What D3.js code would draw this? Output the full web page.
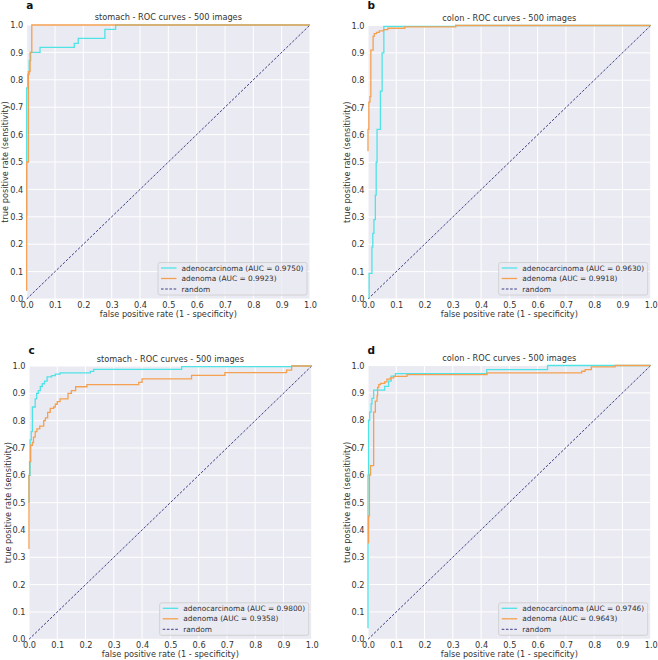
<!DOCTYPE html>
<html>
<head>
<meta charset="utf-8">
<script src="https://cdn.jsdelivr.net/npm/d3@7"></script>
<style>
  html, body { margin: 0; padding: 0; background: #ffffff; }
  svg { display: block; }
  text { font-family: "DejaVu Sans", sans-serif; }
</style>
</head>
<body>
<svg id="chart" width="658" height="660"></svg>
<script>
// ---------- data ----------
const panelLetters = ["a", "b", "c", "d"];
const panelTitles = [
  "stomach - ROC curves - 500 images",
  "colon - ROC curves - 500 images",
  "stomach - ROC curves - 500 images",
  "colon - ROC curves - 500 images"
];
const seriesNames = ["adenocarcinoma", "adenoma", "random"];
const aucAdenocarcinoma = ["0.9750", "0.9630", "0.9800", "0.9746"];
const aucAdenoma = ["0.9923", "0.9918", "0.9358", "0.9643"];
const tickValues = [0, 0.1, 0.2, 0.3, 0.4, 0.5, 0.6, 0.7, 0.8, 0.9, 1.0];
const tickLabels = ["0.0", "0.1", "0.2", "0.3", "0.4", "0.5", "0.6", "0.7", "0.8", "0.9", "1.0"];
const randomFpr = [0, 1];
const randomTpr = [0, 1];

// panel a
const aAdenocarcinomaFpr = [0, 0, 0.004, 0.004, 0.009, 0.009, 0.014, 0.014, 0.047, 0.047, 0.168, 0.168, 0.182, 0.182, 0.276, 0.276, 0.314, 0.314, 1];
const aAdenocarcinomaTpr = [0.30, 0.77, 0.77, 0.82, 0.82, 0.87, 0.87, 0.90, 0.90, 0.918, 0.918, 0.933, 0.933, 0.951, 0.951, 0.984, 0.984, 1, 1];
const aAdenomaFpr = [0, 0, 0.006, 0.006, 0.012, 0.012, 0.018, 0.018, 1];
const aAdenomaTpr = [0.03, 0.50, 0.50, 0.83, 0.83, 0.90, 0.90, 1, 1];

// panel b
const bAdenocarcinomaFpr = [0.004, 0.004, 0.014, 0.014, 0.017, 0.017, 0.021, 0.021, 0.026, 0.026, 0.029, 0.029, 0.032, 0.032, 0.044, 0.044, 0.05, 0.05, 0.056, 0.056, 0.31, 0.31, 1];
const bAdenocarcinomaTpr = [0, 0.094, 0.094, 0.19, 0.19, 0.24, 0.24, 0.29, 0.29, 0.38, 0.38, 0.50, 0.50, 0.62, 0.62, 0.76, 0.76, 0.90, 0.90, 0.997, 0.997, 1, 1];
const bAdenomaFpr = [0, 0, 0.003, 0.003, 0.007, 0.007, 0.01, 0.01, 0.018, 0.018, 0.022, 0.022, 0.03, 0.03, 0.04, 0.04, 0.055, 0.055, 0.07, 0.07, 0.13, 0.13, 0.31, 0.31, 1];
const bAdenomaTpr = [0.54, 0.62, 0.62, 0.72, 0.72, 0.74, 0.74, 0.91, 0.91, 0.96, 0.96, 0.97, 0.97, 0.975, 0.975, 0.98, 0.98, 0.985, 0.985, 0.99, 0.99, 0.995, 0.995, 1, 1];

// panel c
const cAdenocarcinomaFpr = [0, 0, 0.004, 0.004, 0.008, 0.008, 0.012, 0.012, 0.022, 0.022, 0.027, 0.027, 0.033, 0.033, 0.04, 0.04, 0.047, 0.047, 0.055, 0.055, 0.064, 0.064, 0.08, 0.08, 0.093, 0.093, 0.11, 0.11, 0.217, 0.217, 0.229, 0.229, 0.54, 0.54, 0.93, 0.93, 1];
const cAdenocarcinomaTpr = [0.50, 0.60, 0.60, 0.73, 0.73, 0.76, 0.76, 0.85, 0.85, 0.88, 0.88, 0.90, 0.90, 0.91, 0.91, 0.925, 0.925, 0.935, 0.935, 0.945, 0.945, 0.96, 0.96, 0.965, 0.965, 0.97, 0.97, 0.975, 0.975, 0.98, 0.98, 0.988, 0.988, 0.998, 0.998, 1, 1];
const cAdenomaFpr = [0, 0, 0.002, 0.002, 0.006, 0.006, 0.012, 0.012, 0.016, 0.016, 0.022, 0.022, 0.028, 0.028, 0.038, 0.038, 0.052, 0.052, 0.058, 0.058, 0.066, 0.066, 0.075, 0.075, 0.087, 0.087, 0.093, 0.093, 0.10, 0.10, 0.11, 0.11, 0.138, 0.138, 0.15, 0.15, 0.165, 0.165, 0.205, 0.205, 0.388, 0.388, 0.40, 0.40, 0.575, 0.575, 0.693, 0.693, 0.911, 0.911, 0.929, 0.929, 1];
const cAdenomaTpr = [0.33, 0.60, 0.60, 0.65, 0.65, 0.71, 0.71, 0.72, 0.72, 0.74, 0.74, 0.76, 0.76, 0.77, 0.77, 0.78, 0.78, 0.80, 0.80, 0.81, 0.81, 0.83, 0.83, 0.845, 0.845, 0.85, 0.85, 0.86, 0.86, 0.87, 0.87, 0.88, 0.88, 0.90, 0.90, 0.91, 0.91, 0.924, 0.924, 0.932, 0.932, 0.94, 0.94, 0.953, 0.953, 0.966, 0.966, 0.976, 0.976, 0.985, 0.985, 1, 1];

// panel d
const dAdenocarcinomaFpr = [0, 0, 0.002, 0.002, 0.006, 0.006, 0.011, 0.011, 0.014, 0.014, 0.02, 0.02, 0.059, 0.059, 0.073, 0.073, 0.082, 0.082, 0.097, 0.097, 0.42, 0.42, 0.635, 0.635, 1];
const dAdenocarcinomaTpr = [0.04, 0.60, 0.60, 0.80, 0.80, 0.83, 0.83, 0.86, 0.86, 0.88, 0.88, 0.91, 0.91, 0.924, 0.924, 0.943, 0.943, 0.961, 0.961, 0.970, 0.970, 0.985, 0.985, 1, 1];
const dAdenomaFpr = [0.002, 0.002, 0.005, 0.005, 0.009, 0.009, 0.02, 0.02, 0.026, 0.026, 0.032, 0.032, 0.034, 0.034, 0.038, 0.038, 0.044, 0.044, 0.059, 0.059, 0.067, 0.067, 0.079, 0.079, 0.091, 0.091, 0.138, 0.138, 0.421, 0.421, 0.756, 0.756, 0.768, 0.768, 0.79, 0.79, 0.874, 0.874, 1];
const dAdenomaTpr = [0.35, 0.45, 0.45, 0.60, 0.60, 0.634, 0.634, 0.83, 0.83, 0.87, 0.87, 0.89, 0.89, 0.92, 0.92, 0.93, 0.93, 0.935, 0.935, 0.94, 0.94, 0.95, 0.95, 0.955, 0.955, 0.96, 0.96, 0.967, 0.967, 0.973, 0.973, 0.979, 0.979, 0.985, 0.985, 0.995, 0.995, 1, 1];

const adenocarcinomaFpr = [aAdenocarcinomaFpr, bAdenocarcinomaFpr, cAdenocarcinomaFpr, dAdenocarcinomaFpr];
const adenocarcinomaTpr = [aAdenocarcinomaTpr, bAdenocarcinomaTpr, cAdenocarcinomaTpr, dAdenocarcinomaTpr];
const adenomaFpr = [aAdenomaFpr, bAdenomaFpr, cAdenomaFpr, dAdenomaFpr];
const adenomaTpr = [aAdenomaTpr, bAdenomaTpr, cAdenomaTpr, dAdenomaTpr];

// ---------- layout & style ----------
const layouts = [
  { left: 26.7, top: 25.0, width: 283.3, height: 274.0, letterY: 8.5, titleY: 20 },
  { left: 368.0, top: 25.5, width: 282.7, height: 273.5, letterY: 8.5, titleY: 20.5 },
  { left: 29.0, top: 366.0, width: 282.7, height: 273.3, letterY: 353.5, titleY: 361.5 },
  { left: 368.0, top: 365.5, width: 282.7, height: 273.8, letterY: 353.5, titleY: 361 }
];
const colors = { adenocarcinoma: "#4fe3e6", adenoma: "#f5a050", random: "#2b2b7a", bg: "#eaeaf2", text: "#333333" };

const svg = d3.select("#chart");

layouts.forEach((L, i) => {
  const g = svg.append("g").attr("transform", `translate(${L.left},${L.top})`);
  const x = d3.scaleLinear().domain([0, 1]).range([0, L.width]);
  const y = d3.scaleLinear().domain([0, 1]).range([L.height, 0]);

  g.append("rect").attr("width", L.width).attr("height", L.height).attr("fill", colors.bg);

  // grid
  g.append("g").selectAll("line.gx").data(tickValues).join("line")
    .attr("x1", d => x(d)).attr("x2", d => x(d)).attr("y1", 0).attr("y2", L.height)
    .attr("stroke", "#ffffff").attr("stroke-width", 1);
  g.append("g").selectAll("line.gy").data(tickValues).join("line")
    .attr("y1", d => y(d)).attr("y2", d => y(d)).attr("x1", 0).attr("x2", L.width)
    .attr("stroke", "#ffffff").attr("stroke-width", 1);

  // axes (labels only, seaborn style: no tick marks, no spines)
  const xAxis = d3.axisBottom(x).tickValues(tickValues).tickFormat((d, k) => tickLabels[k]).tickSize(0).tickPadding(3);
  const yAxis = d3.axisLeft(y).tickValues(tickValues).tickFormat((d, k) => tickLabels[k]).tickSize(0).tickPadding(3.5);
  const gx = g.append("g").attr("transform", `translate(0,${L.height})`).call(xAxis);
  const gy = g.append("g").call(yAxis);
  [gx, gy].forEach(a => {
    a.select(".domain").remove();
    a.selectAll("text").attr("font-size", 8.2).attr("fill", colors.text).style("font-family", "DejaVu Sans");
  });

  // random diagonal
  const line = d3.line().x(d => x(d[0])).y(d => y(d[1]));
  g.append("path").datum(d3.zip(randomFpr, randomTpr)).attr("d", line)
    .attr("fill", "none").attr("stroke", colors.random).attr("stroke-width", 0.9).attr("stroke-dasharray", "2.6,1.6");

  // ROC curves
  g.append("path").datum(d3.zip(adenocarcinomaFpr[i], adenocarcinomaTpr[i])).attr("d", line)
    .attr("fill", "none").attr("stroke", colors.adenocarcinoma).attr("stroke-width", 1.3);
  g.append("path").datum(d3.zip(adenomaFpr[i], adenomaTpr[i])).attr("d", line)
    .attr("fill", "none").attr("stroke", colors.adenoma).attr("stroke-width", 1.3);

  // titles and labels
  svg.append("text").attr("x", L.left + L.width / 2).attr("y", L.titleY).attr("text-anchor", "middle")
    .attr("font-size", 8.2).attr("fill", colors.text).text(panelTitles[i]);
  svg.append("text").attr("x", L.left - 0.5).attr("y", L.letterY).attr("font-size", 10.5).attr("font-weight", "bold")
    .attr("fill", "#111").text(panelLetters[i]);
  svg.append("text").attr("x", L.left + L.width / 2).attr("y", L.top + L.height + 17.5).attr("text-anchor", "middle")
    .attr("font-size", 8.2).attr("fill", colors.text).text("false positive rate (1 - specificity)");
  svg.append("text").attr("transform", `translate(${L.left - 18.5},${L.top + L.height / 2}) rotate(-90)`)
    .attr("text-anchor", "middle").attr("font-size", 8.2).attr("fill", colors.text).text("true positive rate (sensitivity)");

  // legend
  const legendItems = [
    { label: `${seriesNames[0]} (AUC = ${aucAdenocarcinoma[i]})`, color: colors.adenocarcinoma, dash: null, w: 1.3 },
    { label: `${seriesNames[1]} (AUC = ${aucAdenoma[i]})`, color: colors.adenoma, dash: null, w: 1.3 },
    { label: seriesNames[2], color: colors.random, dash: "2.6,1.6", w: 0.9 }
  ];
  const lg = g.append("g");
  const box = lg.append("rect").attr("fill", colors.bg).attr("fill-opacity", 0.8)
    .attr("stroke", "#cccccc").attr("stroke-width", 0.8).attr("rx", 2);
  const texts = [];
  legendItems.forEach((it, k) => {
    const t = lg.append("text").attr("font-size", 7.4).attr("fill", colors.text).attr("dy", "0.35em").text(it.label);
    texts.push(t);
  });
  const maxW = d3.max(texts, t => t.node().getComputedTextLength());
  const boxW = maxW + 27, boxH = 32.5;
  const bx = L.width - 3 - boxW, by = L.height - 4 - boxH;
  box.attr("x", bx).attr("y", by).attr("width", boxW).attr("height", boxH);
  legendItems.forEach((it, k) => {
    const cy = by + 5.5 + k * 10.5;
    lg.append("line").attr("x1", bx + 3).attr("x2", bx + 18.5).attr("y1", cy).attr("y2", cy)
      .attr("stroke", it.color).attr("stroke-width", it.w).attr("stroke-dasharray", it.dash);
    texts[k].attr("x", bx + 23.5).attr("y", cy);
  });
});
</script>
</body>
</html>
